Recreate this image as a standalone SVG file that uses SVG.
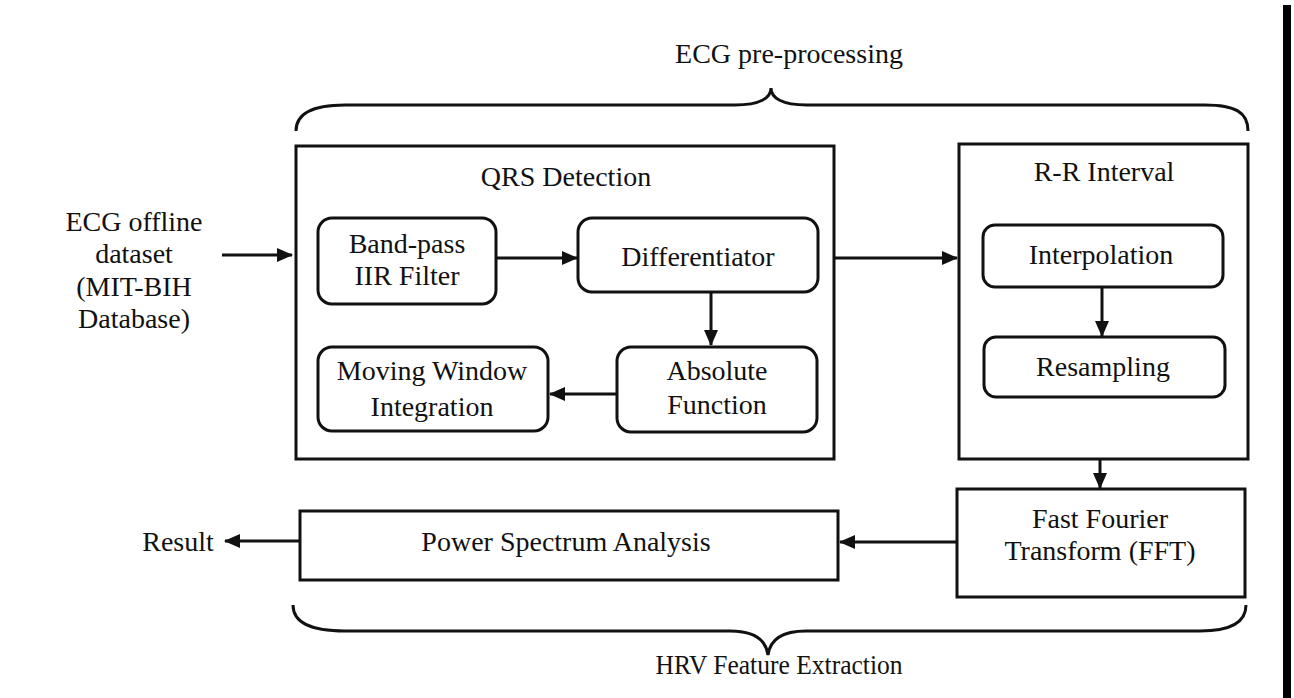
<svg xmlns="http://www.w3.org/2000/svg" width="1294" height="698" viewBox="0 0 1294 698">
<style>
text{font-family:"Liberation Serif","Times New Roman",serif;font-size:28px;fill:#111;text-anchor:middle}
.box{fill:#fff;stroke:#111;stroke-width:3}
.rbox{fill:#fff;stroke:#111;stroke-width:3}
.conn{fill:none;stroke:#111;stroke-width:3}
.brace{fill:none;stroke:#111;stroke-width:3}
</style>
<defs>
<marker id="ah" markerUnits="userSpaceOnUse" markerWidth="16" markerHeight="14" refX="15" refY="7" orient="auto">
<path d="M0,0 L16,7 L0,14 Z" fill="#111"/>
</marker>
</defs>
<rect width="1294" height="698" fill="#fff"/>
<rect x="1283" y="5" width="8" height="693" fill="#000"/>

<g id="brace-top">
<path class="brace" d="M296,131 C296,112 315,105 345,105 L735,105 C760,105 771,98 771,88 C771,98 782,105 807,105 L1205,105 C1235,105 1248,112 1248,131"/>
<text x="789" y="63">ECG pre-processing</text>
</g>
<g id="brace-bottom">
<path class="brace" d="M293,605 C293,622 310,631 345,631 L730,631 C755,631 766,640 768,655 C770,640 781,631 806,631 L1200,631 C1232,631 1246,622 1246,605"/>
<text x="779" y="674" textLength="247" lengthAdjust="spacingAndGlyphs">HRV Feature Extraction</text>
</g>

<g id="input">
<text x="134" y="231">ECG offline</text>
<text x="134" y="263">dataset</text>
<text x="134" y="296">(MIT-BIH</text>
<text x="134" y="328">Database)</text>
</g>

<g id="qrs">
<rect class="box" x="296" y="146" width="538" height="313"/>
<text x="566" y="186">QRS Detection</text>
</g>
<g id="bandpass">
<rect class="rbox" x="318" y="218" width="178" height="86" rx="14"/>
<text x="407" y="253">Band-pass</text>
<text x="407" y="285">IIR Filter</text>
</g>
<g id="differentiator">
<rect class="rbox" x="578" y="218" width="240" height="74" rx="14"/>
<text x="698" y="266">Differentiator</text>
</g>
<g id="absolute">
<rect class="rbox" x="617" y="347" width="200" height="85" rx="14"/>
<text x="717" y="380">Absolute</text>
<text x="717" y="414">Function</text>
</g>
<g id="moving">
<rect class="rbox" x="318" y="347" width="230" height="84" rx="14"/>
<text x="432" y="380">Moving Window</text>
<text x="432" y="416">Integration</text>
</g>

<g id="rr">
<rect class="box" x="959" y="144" width="289" height="315"/>
<text x="1104" y="181">R-R Interval</text>
</g>
<g id="interpolation">
<rect class="rbox" x="983" y="225" width="240" height="62" rx="12"/>
<text x="1101" y="264">Interpolation</text>
</g>
<g id="resampling">
<rect class="rbox" x="984" y="337" width="241" height="60" rx="12"/>
<text x="1103" y="376">Resampling</text>
</g>

<g id="fft">
<rect class="box" x="957" y="489" width="288" height="108"/>
<text x="1100" y="528">Fast Fourier</text>
<text x="1100" y="560">Transform (FFT)</text>
</g>
<g id="psa">
<rect class="box" x="300" y="511" width="538" height="69"/>
<text x="566" y="551">Power Spectrum Analysis</text>
</g>
<g id="result">
<text x="178" y="551">Result</text>
</g>

<g id="connectors">
<line class="conn" x1="222" y1="255" x2="292" y2="255" marker-end="url(#ah)"/>
<line class="conn" x1="496" y1="258" x2="577" y2="258" marker-end="url(#ah)"/>
<line class="conn" x1="711" y1="292" x2="711" y2="345" marker-end="url(#ah)"/>
<line class="conn" x1="617" y1="394" x2="550" y2="394" marker-end="url(#ah)"/>
<line class="conn" x1="834" y1="258" x2="957" y2="258" marker-end="url(#ah)"/>
<line class="conn" x1="1102" y1="287" x2="1102" y2="336" marker-end="url(#ah)"/>
<line class="conn" x1="1100" y1="459" x2="1100" y2="488" marker-end="url(#ah)"/>
<line class="conn" x1="957" y1="542" x2="840" y2="542" marker-end="url(#ah)"/>
<line class="conn" x1="300" y1="541" x2="225" y2="541" marker-end="url(#ah)"/>
</g>
</svg>
